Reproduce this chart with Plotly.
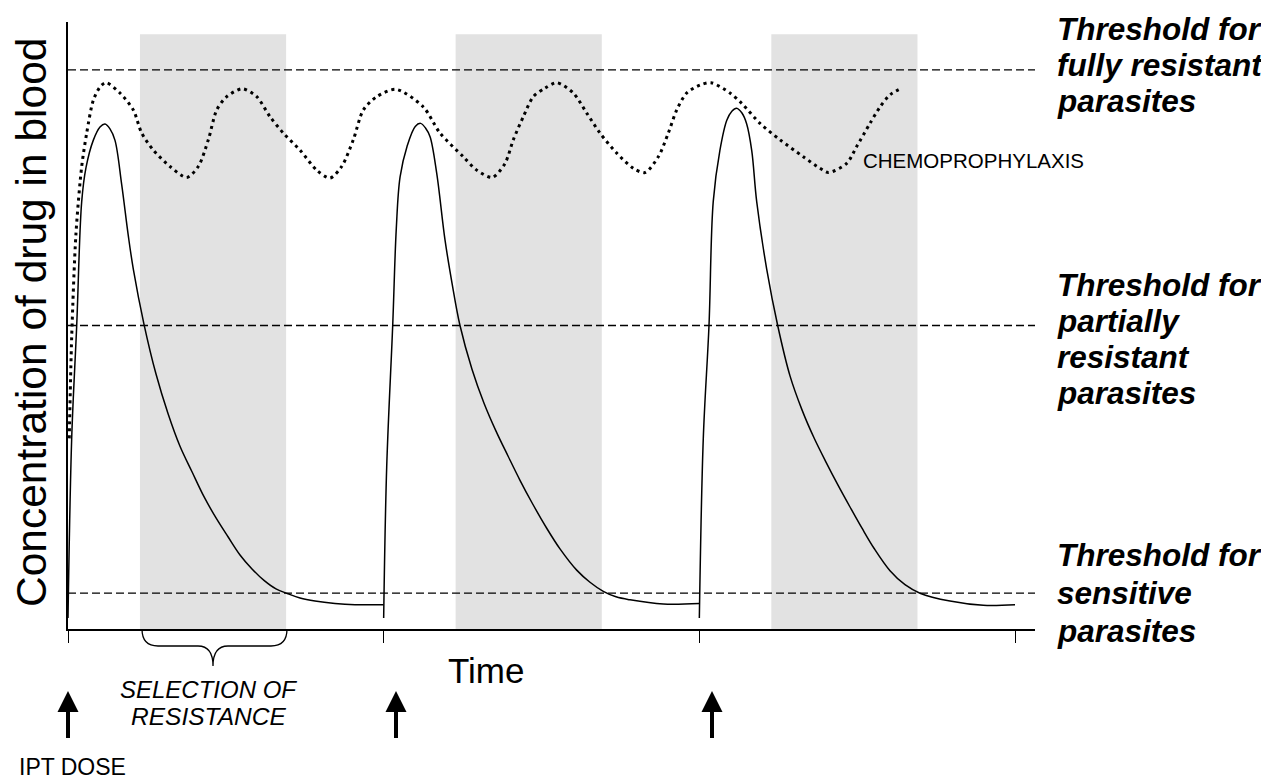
import plotly.graph_objects as go

# ---------------- data ----------------
dose_times = [0, 1, 2, 3]                      # IPT doses (x-axis ticks)
threshold_values = [92.1, 50.0, 5.9]           # fully resistant, partially resistant, sensitive
band_start = [0.228, 1.228, 2.228]             # selection-of-resistance windows
band_end = [0.691, 1.691, 2.691]
band_top = 98.0

cycle1_x = [0.0, 0.0117, 0.0276, 0.0434, 0.057, 0.080, 0.1014, 0.1172, 0.1330, 0.1489,
            0.1701, 0.1910, 0.2069, 0.2408, 0.2788, 0.3168, 0.3548, 0.3928, 0.4308, 0.4689,
            0.5069, 0.5449, 0.5829, 0.6209, 0.6589, 0.6969, 0.7350, 0.7825, 0.8458, 0.9092, 1.0]
cycle1_y = [1.8, 31.4, 50.0, 70.4, 76.0, 80.5, 82.7, 83.2, 82.4, 80.5,
            73.2, 64.8, 59.3, 50.2, 42.0, 35.5, 30.1, 25.9, 21.8, 18.3,
            15.2, 12.2, 9.9, 8.0, 6.6, 5.8, 5.1, 4.6, 4.2, 4.0, 4.0]
cycle2_x = [1.0, 1.0096, 1.0286, 1.040, 1.052, 1.074, 1.100, 1.117, 1.133, 1.147, 1.168,
            1.1943, 1.2165, 1.2418, 1.2798, 1.3179, 1.3559, 1.3939, 1.4319, 1.4699, 1.5165,
            1.5586, 1.6115, 1.6536, 1.6958, 1.7360, 1.7804, 1.8858, 2.0]
cycle2_y = [1.8, 26.7, 50.0, 66.0, 74.5, 79.5, 82.8, 83.3, 82.5, 81.1, 75.1,
            64.1, 57.0, 50.0, 42.8, 37.2, 32.6, 28.5, 24.5, 20.8, 16.6,
            13.2, 9.7, 7.7, 6.2, 5.3, 4.8, 4.1, 4.2]
cycle3_x = [2.0, 2.0125, 2.0306, 2.044, 2.065, 2.087, 2.103, 2.118, 2.135, 2.150, 2.166,
            2.1817, 2.2134, 2.2482, 2.2872, 2.3252, 2.3632, 2.4012, 2.4393, 2.4773, 2.5153,
            2.5533, 2.6040, 2.6515, 2.6990, 2.7940, 2.8995, 3.0]
cycle3_y = [1.8, 31.4, 50.0, 70.4, 78.8, 83.8, 85.3, 85.8, 85.0, 83.2, 78.8,
            70.4, 59.3, 50.0, 41.7, 36.1, 31.5, 27.5, 23.7, 20.1, 16.6,
            13.3, 9.6, 7.3, 5.9, 4.6, 3.9, 4.0]

chemo_x = [0.004, 0.0117, 0.0253, 0.0434, 0.0592, 0.0801, 0.1014, 0.1204, 0.1647, 0.2069,
           0.2335, 0.2702, 0.3231, 0.3760, 0.4128, 0.4445, 0.4711, 0.5027, 0.5522, 0.5978,
           0.6399, 0.6821, 0.7350, 0.7879, 0.8300, 0.8671, 0.9038, 0.9355, 0.9779, 1.0391,
           1.1256, 1.1785, 1.2523, 1.2947, 1.3441, 1.3844, 1.4107, 1.4424, 1.4740, 1.5111,
           1.5481, 1.6007, 1.6432, 1.6853, 1.7382, 1.7908, 1.8279, 1.8700, 1.9017, 1.9283,
           1.9600, 2.0021, 2.0369, 2.0971, 2.1342, 2.1921, 2.2555, 2.3293, 2.3822, 2.4085,
           2.4668, 2.4985, 2.5406, 2.5723, 2.6040, 2.6411]
chemo_y = [31.4, 48.1, 65.2, 76.2, 81.7, 87.1, 89.3, 90.0, 88.3, 85.5,
           81.7, 78.9, 76.2, 74.4, 76.2, 80.6, 85.5, 87.7, 89.0, 87.7,
           84.4, 81.7, 78.9, 75.6, 74.3, 76.2, 80.6, 85.5, 87.7, 88.9,
           86.0, 81.7, 77.8, 75.6, 74.4, 76.7, 80.6, 84.4, 87.7, 89.1,
           90.0, 88.3, 85.0, 81.7, 78.4, 75.9, 75.2, 77.8, 81.7, 85.5,
           88.3, 89.6, 90.0, 88.3, 86.6, 83.3, 80.6, 77.8, 75.9, 75.2,
           76.7, 79.5, 83.3, 86.0, 88.0, 89.1]

threshold_labels = [["Threshold for", "fully resistant", "parasites"],
                    ["Threshold for", "partially", "resistant", "parasites"],
                    ["Threshold for", "sensitive", "parasites"]]

# ---------------- layout geometry (page pixels) ----------------
OFF = 8                      # default page margin of the html body
W, H = 1269 - OFF, 780 - OFF
PL, PR, PT, PB = 68, 1035, 22, 629
X_END = (PR - PL) / 315.67


def fx(px):
    return (px - PL) / (PR - PL)


def fy(py):
    return (PB - py) / (PB - PT)


FONT = "Liberation Sans, Arial, sans-serif"

fig = go.Figure()

# threshold lines
for v in threshold_values:
    fig.add_trace(go.Scatter(x=[0, X_END], y=[v, v], mode="lines",
                             line=dict(color="black", width=1.3, dash="8px,4px"),
                             hoverinfo="skip", showlegend=False, cliponaxis=False))

# chemoprophylaxis (dotted)
fig.add_trace(go.Scatter(x=chemo_x, y=chemo_y, mode="lines",
                         line=dict(color="black", width=3, dash="3px,4px",
                                   shape="spline", smoothing=0.8),
                         showlegend=False))

# IPT cycles (solid)
for cx, cy in [(cycle1_x, cycle1_y), (cycle2_x, cycle2_y), (cycle3_x, cycle3_y)]:
    fig.add_trace(go.Scatter(x=cx, y=cy, mode="lines",
                             line=dict(color="black", width=1.5, shape="spline", smoothing=1.0),
                             showlegend=False))

shapes = []
for s, e in zip(band_start, band_end):
    shapes.append(dict(type="rect", xref="x", yref="y", x0=s, x1=e, y0=0, y1=band_top,
                       fillcolor="#e2e2e2", line=dict(width=0), layer="below"))

# IPT dose arrows
for ax in [68, 396, 712]:
    shapes.append(dict(type="rect", xref="paper", yref="paper",
                       x0=fx(ax - 2), x1=fx(ax + 2), y0=fy(738), y1=fy(710),
                       fillcolor="black", line=dict(width=0)))
    path = "M {:.5f} {:.5f} L {:.5f} {:.5f} L {:.5f} {:.5f} Z".format(
        fx(ax - 10.5), fy(712), fx(ax + 10.5), fy(712), fx(ax), fy(691))
    shapes.append(dict(type="path", xref="paper", yref="paper", path=path,
                       fillcolor="black", line=dict(width=0)))

# curly brace under first selection window
bp = [(142, 629), (142, 646), (158, 646), (198, 646), (213, 646), (213, 666),
      (213, 646), (228, 646), (271, 646), (287, 646), (287, 629)]
p = [(fx(a), fy(b)) for a, b in bp]
brace = ("M {0[0]:.5f} {0[1]:.5f} Q {1[0]:.5f} {1[1]:.5f} {2[0]:.5f} {2[1]:.5f} "
         "L {3[0]:.5f} {3[1]:.5f} Q {4[0]:.5f} {4[1]:.5f} {5[0]:.5f} {5[1]:.5f} "
         "Q {6[0]:.5f} {6[1]:.5f} {7[0]:.5f} {7[1]:.5f} "
         "L {8[0]:.5f} {8[1]:.5f} Q {9[0]:.5f} {9[1]:.5f} {10[0]:.5f} {10[1]:.5f}").format(*p)
shapes.append(dict(type="path", xref="paper", yref="paper", path=brace,
                   line=dict(color="black", width=1.3)))

annotations = []


def note(text, px, py, size, xanchor="center", angle=0):
    annotations.append(dict(text=text, xref="paper", yref="paper", x=fx(px), y=fy(py),
                            xanchor=xanchor, yanchor="middle", showarrow=False,
                            textangle=angle, font=dict(family=FONT, size=size, color="black")))


note("Concentration of drug in blood", 31, 323, 42.5, angle=-90)
note("Time", 486, 670, 35)
note("<i>SELECTION OF</i>", 208, 689, 24)
note("<i>RESISTANCE</i>", 208, 716, 24.5)
note("IPT DOSE", 72, 767, 23)
note("CHEMOPROPHYLAXIS", 861, 161, 20.5, xanchor="left")

label_baselines = [[36, 72, 108], [292, 328, 364, 400], [562, 600, 638]]
for lines, bases in zip(threshold_labels, label_baselines):
    for t, b in zip(lines, bases):
        note("<b><i>" + t + "</i></b>", 1055, b - 7, 31.5, xanchor="left")

fig.update_layout(
    width=W, height=H,
    margin=dict(l=PL - OFF, r=W - (PR - OFF), t=PT - OFF, b=H - (PB - OFF), pad=0),
    plot_bgcolor="white", paper_bgcolor="white",
    shapes=shapes, annotations=annotations,
    xaxis=dict(range=[0, X_END], showgrid=False, zeroline=False, showline=True,
               linecolor="black", linewidth=1.5, ticks="outside", ticklen=12,
               tickwidth=1.3, tickcolor="black", tickvals=dose_times, showticklabels=False),
    yaxis=dict(range=[0, 100], showgrid=False, zeroline=False, showline=True,
               linecolor="black", linewidth=1.5, ticks="", showticklabels=False),
)

fig.write_html("out.html")
